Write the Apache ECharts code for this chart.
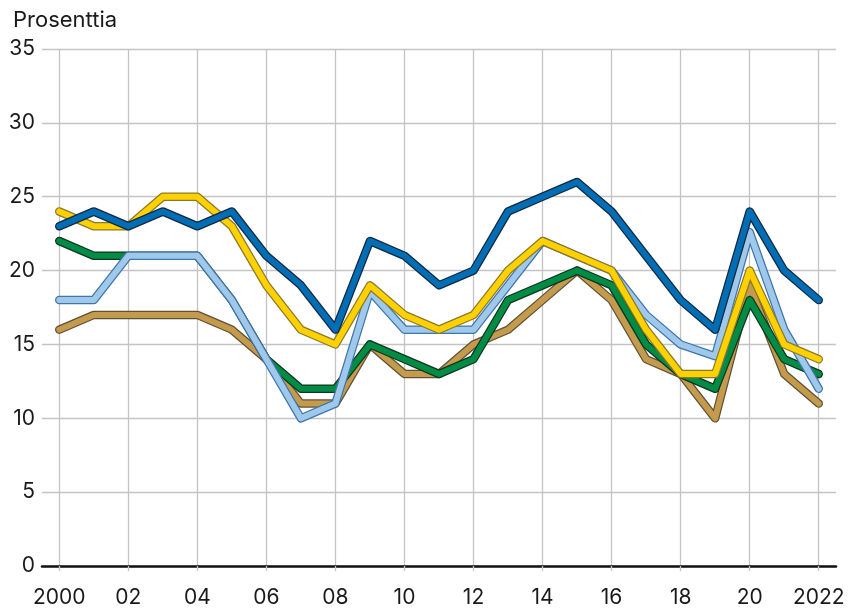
<!DOCTYPE html>
<html>
<head>
<meta charset="utf-8">
<script src="https://cdn.jsdelivr.net/npm/echarts@6/dist/echarts.min.js"></script>
<style>
html,body{margin:0;padding:0;background:#fff;}
#chart{width:850px;height:610px;}
</style>
</head>
<body>
<div id="chart"></div>
<script>
var years = [2000,2001,2002,2003,2004,2005,2006,2007,2008,2009,2010,2011,2012,2013,2014,2015,2016,2017,2018,2019,2020,2021,2022];
var tickYears = [2000,2002,2004,2006,2008,2010,2012,2014,2016,2018,2020,2022];
var tickLabels = ['2000','02','04','06','08','10','12','14','16','18','20','2022'];
var yTicks = [0,5,10,15,20,25,30,35];

var brown     = [16,17,17,17,17,16,14,11,11,15,13,13,15,16,18,20,18,14,13,10,19,13,11];
var green     = [22,21,21,21,21,18,14,12,12,15,14,13,14,18,19,20,19,15,13,12,18,14,13];
var lightBlue = [18,18,21,21,21,18,14,10,11,18.6,16,16,16,19,22,21,20,17,15,14.2,22.6,16,12];
var yellow    = [24,23,23,25,25,23,19,16,15,19,17,16,17,20,22,21,20,16,13,13,20,15,14];
var blue      = [23,24,23,24,23,24,21,19,16,22,21,19,20,24,25,26,24,21,18,16,24,20,18];

var seriesDefs = [
  {name:'brown', data:brown, color:'#c49a4d', edge:'#5f5237'},
  {name:'green', data:green, color:'#008c45', edge:'#12351f'},
  {name:'lightBlue', data:lightBlue, color:'#9fc8eb', edge:'#3e77ab'},
  {name:'yellow', data:yellow, color:'#ffd100', edge:'#8a7a2c'},
  {name:'blue', data:blue, color:'#006db5', edge:'#132a3f'}
];

function pairs(arr){ return years.map(function(y,i){ return [y, arr[i]]; }); }

var series = [];
seriesDefs.forEach(function(d){
  series.push({
    type:'line', name:d.name+'-edge', data:pairs(d.data), showSymbol:false, silent:true,
    lineStyle:{color:d.edge, width:8.5, cap:'round', join:'round'}
  });
  series.push({
    type:'line', name:d.name, data:pairs(d.data), showSymbol:false, silent:true,
    lineStyle:{color:d.color, width:6, cap:'round', join:'round'}
  });
});

var chart = echarts.init(document.getElementById('chart'), null, {renderer:'canvas'});
chart.setOption({
  animation:false,
  backgroundColor:'#ffffff',
  textStyle:{fontFamily:'Inter, Roboto, sans-serif'},
  title:{
    text:'Prosenttia', left:8, top:4,
    textStyle:{fontSize:22, fontWeight:'normal', color:'#1a1a1a', fontFamily:'Inter, Roboto, sans-serif'}
  },
  grid:{left:42, right:14, top:49, bottom:44, containLabel:false},
  xAxis:{
    type:'value', min:1999.5, max:2022.5,
    axisLine:{show:true, onZero:false, lineStyle:{color:'#111', width:2.5}},
    axisTick:{show:true, length:5, customValues:tickYears, lineStyle:{color:'#c4c4c4', width:1.3}},
    axisLabel:{
      customValues:tickYears, margin:21, fontSize:21, color:'#1a1a1a',
      formatter:function(v){ var i = tickYears.indexOf(Math.round(v)); return i>=0 ? tickLabels[i] : ''; }
    },
    splitLine:{show:true, lineStyle:{color:'#c4c4c4', width:1.3}}
  },
  yAxis:{
    type:'value', min:0, max:35, interval:5,
    axisLine:{show:false}, axisTick:{show:false},
    axisLabel:{margin:7, fontSize:21, color:'#1a1a1a', padding:[0,0,3,0]},
    splitLine:{show:true, lineStyle:{color:'#c4c4c4', width:1.3}}
  },
  series:series
});
</script>
</body>
</html>
